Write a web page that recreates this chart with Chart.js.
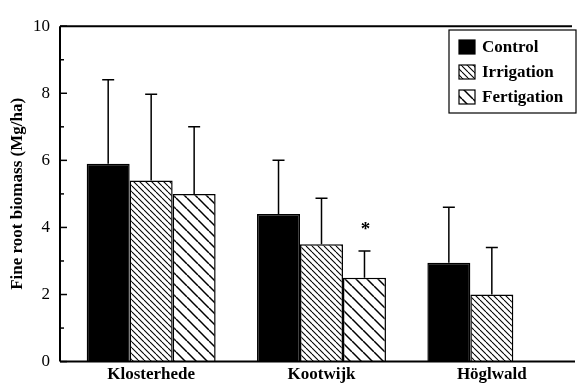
<!DOCTYPE html>
<html>
<head>
<meta charset="utf-8">
<script src="https://cdn.jsdelivr.net/npm/chart.js@4"></script>
<style>
  html, body { margin: 0; padding: 0; background: #fff; }
  #wrap { width: 581px; height: 388px; }
</style>
</head>
<body>
<div id="wrap"><canvas id="rootChart" width="581" height="388"></canvas></div>
<script>
const sites = ["Klosterhede", "Kootwijk", "Höglwald"];
const control = [5.9, 4.4, 2.95];        // Mg/ha
const irrigation = [5.4, 3.5, 2.0];
const fertigation = [5.0, 2.5, null];    // no fertigation at Höglwald
// standard deviations (upper whisker only)
const controlErr = [2.5, 1.6, 1.65];
const irrigationErr = [2.57, 1.37, 1.4];
const fertigationErr = [2.0, 0.8, null];
const fertigationSig = ["", "*", ""];
const yTicks = [0, 2, 4, 6, 8, 10];

const serif = '"Liberation Serif", "DejaVu Serif", serif';

// hatch fill: "\" diagonals
function hatch(step, lw) {
    const c = document.createElement('canvas');
    c.width = step; c.height = step;
    const g = c.getContext('2d');
    g.fillStyle = '#fff';
    g.fillRect(0, 0, step, step);
    g.strokeStyle = '#000';
    g.lineWidth = lw;
    for (let k = -1; k <= 1; k++) {
        g.beginPath();
        g.moveTo(k * step, 0);
        g.lineTo(k * step + step, step);
        g.stroke();
    }
    return g.createPattern(c, 'repeat');
}
const irrFill = hatch(6, 1.1);
const ferFill = hatch(11, 1.5);

// frame, inward ticks, error bars, asterisk, legend
const extras = {
    id: 'extras',
    afterDatasetsDraw(chart) {
        const ctx = chart.ctx;
        const ca = chart.chartArea;
        const y = chart.scales.y;
        const x0 = ca.left - 6;
        ctx.save();
        ctx.strokeStyle = '#000';
        ctx.lineWidth = 2;
        ctx.beginPath();
        ctx.moveTo(x0, ca.top);
        ctx.lineTo(x0, ca.bottom);
        ctx.moveTo(x0, ca.top);
        ctx.lineTo(ca.right - 5, ca.top);
        ctx.moveTo(x0, ca.bottom);
        ctx.lineTo(ca.right - 2, ca.bottom);
        ctx.stroke();
        ctx.lineWidth = 1.5;
        for (let v = y.min; v <= y.max; v++) {
            const py = y.getPixelForValue(v);
            ctx.beginPath();
            ctx.moveTo(x0, py);
            ctx.lineTo(x0 + (v % 2 === 0 ? 7 : 4), py);
            ctx.stroke();
        }

        const errs = [controlErr, irrigationErr, fertigationErr];
        chart.data.datasets.forEach((ds, di) => {
            const meta = chart.getDatasetMeta(di);
            meta.data.forEach((bar, i) => {
                const v = ds.data[i];
                const e = errs[di][i];
                if (v == null || e == null) return;
                const top = y.getPixelForValue(v + e);
                ctx.lineWidth = 1.5;
                ctx.beginPath();
                ctx.moveTo(bar.x, bar.y);
                ctx.lineTo(bar.x, top);
                ctx.moveTo(bar.x - 6, top);
                ctx.lineTo(bar.x + 6, top);
                ctx.stroke();
                if (di === 2 && fertigationSig[i]) {
                    ctx.fillStyle = '#000';
                    ctx.font = 'bold 19px ' + serif;
                    ctx.textAlign = 'center';
                    ctx.textBaseline = 'middle';
                    ctx.fillText(fertigationSig[i], bar.x + 1, top - 21);
                }
            });
        });

        // legend box in the upper right
        const lx = 449, ly = 30, lw = 127, lh = 83;
        ctx.fillStyle = '#fff';
        ctx.fillRect(lx, ly, lw, lh);
        ctx.lineWidth = 1.2;
        ctx.strokeRect(lx, ly, lw, lh);
        chart.data.datasets.forEach((ds, di) => {
            const cy = ly + 17 + di * 25;
            ctx.fillStyle = ds.backgroundColor;
            ctx.fillRect(lx + 10, cy - 7, 16, 14);
            ctx.lineWidth = 1.2;
            ctx.strokeStyle = '#000';
            ctx.strokeRect(lx + 10, cy - 7, 16, 14);
            ctx.fillStyle = '#000';
            ctx.font = 'bold 17px ' + serif;
            ctx.textAlign = 'left';
            ctx.textBaseline = 'middle';
            ctx.fillText(ds.label, lx + 33, cy + 1);
        });
        ctx.restore();
    }
};

const chart = new Chart(document.getElementById('rootChart'), {
    type: 'bar',
    data: {
        labels: sites,
        datasets: [
            { label: 'Control', data: control, backgroundColor: '#000' },
            { label: 'Irrigation', data: irrigation, backgroundColor: irrFill },
            { label: 'Fertigation', data: fertigation, backgroundColor: ferFill }
        ]
    },
    options: {
        responsive: false,
        animation: false,
        layout: { padding: { top: 13, right: 4, left: 0, bottom: 0 } },
        datasets: {
            bar: {
                borderColor: '#000',
                borderWidth: 1.5,
                borderSkipped: 'bottom',
                categoryPercentage: 0.757,
                barPercentage: 1
            }
        },
        scales: {
            x: {
                grid: { display: false, drawTicks: false },
                border: { display: false },
                ticks: { color: '#000', padding: 3, font: { family: serif, size: 17, weight: 'bold' } }
            },
            y: {
                min: 0,
                max: 10,
                afterFit(scale) { scale.width = 66; },
                afterBuildTicks(scale) { scale.ticks = yTicks.map(v => ({ value: v })); },
                grid: { display: false, drawTicks: false },
                border: { display: false },
                ticks: { color: '#000', padding: 16, font: { family: serif, size: 17 } },
                title: {
                    display: true,
                    text: 'Fine root biomass (Mg/ha)',
                    color: '#000',
                    padding: { top: 7, bottom: 0 },
                    font: { family: serif, size: 17, weight: 'bold' }
                }
            }
        },
        plugins: {
            legend: { display: false },
            tooltip: { enabled: false }
        }
    },
    plugins: [extras]
});
</script>
</body>
</html>
